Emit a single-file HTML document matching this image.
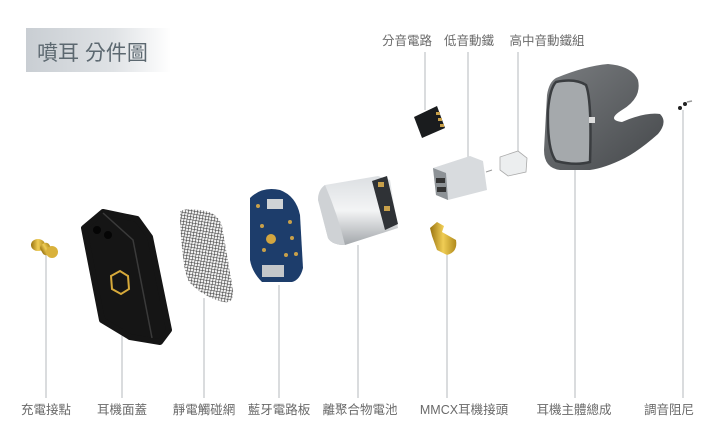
<!DOCTYPE html>
<html><head><meta charset="utf-8"><style>
html,body{margin:0;padding:0;background:#fff;width:720px;height:444px;overflow:hidden}
svg{display:block}
text{font-family:"Liberation Sans","Noto Sans CJK TC",sans-serif;fill:#6a6a6a;font-size:12.5px}
</style></head><body>
<svg width="720" height="444" viewBox="0 0 720 444" xmlns="http://www.w3.org/2000/svg">
<defs>
<linearGradient id="tg" x1="0" x2="1" y1="0" y2="0">
<stop offset="0" stop-color="#c9ced3"/><stop offset="0.6" stop-color="#dfe2e5"/><stop offset="1" stop-color="#fff"/></linearGradient>
<linearGradient id="bat" x1="0" x2="0" y1="0" y2="1">
<stop offset="0" stop-color="#dcdfe2"/><stop offset="0.5" stop-color="#f3f4f5"/><stop offset="1" stop-color="#a3a7ab"/></linearGradient>
<linearGradient id="gold" x1="0" x2="1"><stop offset="0" stop-color="#9a7410"/><stop offset="0.5" stop-color="#f0cd55"/><stop offset="1" stop-color="#b08a1c"/></linearGradient>
<linearGradient id="shell" x1="0" x2="1" y1="0" y2="1"><stop offset="0" stop-color="#7a7d80"/><stop offset="1" stop-color="#45484b"/></linearGradient>
<pattern id="mesh" width="3" height="3" patternUnits="userSpaceOnUse" patternTransform="rotate(10)">
<rect width="3" height="3" fill="#f2f2f2"/><path d="M0 0H3M0 0V3" stroke="#333" stroke-width="1.1"/></pattern>
</defs>
<rect x="26" y="28" width="145" height="44" fill="url(#tg)"/>
<text x="37" y="60" style="font-size:21px;fill:#5c6870">噴耳 分件圖</text>

<g stroke="#b5b9bc" stroke-width="1">
<line x1="46" y1="255" x2="46" y2="398"/>
<line x1="122" y1="333" x2="122" y2="398"/>
<line x1="204" y1="298" x2="204" y2="398"/>
<line x1="279" y1="285" x2="279" y2="398"/>
<line x1="358" y1="245" x2="358" y2="398"/>
<line x1="447" y1="255" x2="447" y2="398"/>
<line x1="575" y1="165" x2="575" y2="398"/>
<line x1="683" y1="110" x2="683" y2="398"/>
<line x1="425" y1="52" x2="425" y2="110"/>
<line x1="468" y1="52" x2="468" y2="160"/>
<line x1="518" y1="52" x2="518" y2="152"/>
</g>

<!-- gold contacts -->
<ellipse cx="38" cy="245" rx="7" ry="6" fill="url(#gold)"/>
<rect x="41" y="243" width="10" height="12" rx="4" fill="url(#gold)" transform="rotate(-30 46 249)"/>
<ellipse cx="52" cy="252" rx="6" ry="6" fill="#d9b13b"/>
<!-- cover -->
<polygon points="84,228 103,212 137,219 150,237 169,330 160,342 130,337 102,320" fill="#151515" stroke="#151515" stroke-width="6" stroke-linejoin="round"/>
<polyline points="103,213 133,240 152,338" fill="none" stroke="#3a3a3a" stroke-width="1.5"/>
<circle cx="97" cy="230" r="4" fill="#050505"/><circle cx="108" cy="235" r="4" fill="#050505"/>
<polygon points="111,276 120,271 128,276 129,289 121,294 112,289" fill="none" stroke="#d6a93a" stroke-width="2"/>
<!-- mesh -->
<path d="M180,212 Q182,208 200,210 Q218,212 222,226 L233,290 Q234,304 224,302 Q205,298 190,283 Q183,276 180,222 Z" fill="url(#mesh)"/>
<!-- PCB -->
<path d="M250,198 Q262,186 280,190 Q296,196 300,215 L303,268 Q300,280 292,282 L262,282 Q252,272 250,260 Z" fill="#1d3d6b"/>
<rect x="267" y="199" width="16" height="10" fill="#cfd3d6"/>
<circle cx="271" cy="239" r="5" fill="#d3a640"/>
<g fill="#c8a04a"><circle cx="258" cy="206" r="2"/><circle cx="290" cy="222" r="2"/><circle cx="292" cy="238" r="2"/><circle cx="286" cy="255" r="2"/><circle cx="262" cy="226" r="2"/><circle cx="296" cy="254" r="2"/><circle cx="264" cy="250" r="2"/></g>
<rect x="262" y="265" width="22" height="12" fill="#c4c7ca"/>
<!-- battery -->
<path d="M325,185 L378,176 L390,180 L398,228 L345,245 Q332,245 328,238 L318,200 Q318,190 325,185 Z" fill="url(#bat)"/>
<path d="M325,185 Q318,190 318,200 L328,238 Q332,245 345,245 Q338,215 325,185 Z" fill="#cfd2d5"/>
<path d="M372,181 L387,176 L398,224 L385,230 Z" fill="#2f3236"/>
<rect x="378" y="182" width="6" height="5" fill="#c8a04a"/><rect x="384" y="206" width="6" height="5" fill="#c8a04a"/>
<!-- crossover -->
<polygon points="414,117 437,106 445,128 422,138" fill="#1a1c1e"/>
<g fill="#c8a04a"><rect x="436" y="112" width="4" height="3"/><rect x="438" y="118" width="4" height="3"/><rect x="440" y="124" width="4" height="3"/></g>
<!-- woofer -->
<polygon points="433,168 470,156 483,161 487,190 448,200 436,195" fill="#d8dbde"/>
<polygon points="433,168 446,173 448,200 436,195" fill="#8d9296"/>
<rect x="436" y="178" width="9" height="5" fill="#333"/><rect x="437" y="187" width="9" height="5" fill="#333"/>
<line x1="486" y1="172" x2="492" y2="170" stroke="#999"/>
<!-- tweeter -->
<polygon points="500,157 518,151 527,158 526,172 508,176 500,170" fill="#eceeef" stroke="#aaa" stroke-width="0.8"/>
<!-- shell -->
<path d="M556,78 Q585,66 608,64 Q632,66 638,80 Q642,98 622,110 Q606,120 622,122 Q645,112 660,114 Q668,122 658,134 Q640,150 625,158 Q605,168 590,170 L560,170 Q544,168 544,150 L547,95 Q549,82 556,78 Z" fill="url(#shell)"/>
<path d="M556,82 Q575,78 586,85 Q592,100 590,162 Q575,166 556,161 Q547,150 548,110 Q550,88 556,82 Z" fill="#a5a9ac" stroke="#3a3d40" stroke-width="2.5"/>
<rect x="589" y="117" width="6" height="6" fill="#ddd"/>
<!-- damper -->
<circle cx="680" cy="108" r="2" fill="#222"/><circle cx="685" cy="104" r="2" fill="#222"/>
<line x1="687" y1="102" x2="692" y2="101" stroke="#999" stroke-width="1.5"/>
<!-- MMCX -->
<path d="M430,228 L437,222 L444,226 L442,232 L456,240 Q458,252 447,255 L437,250 L432,236 Z" fill="url(#gold)"/>

<!-- labels -->
<g text-anchor="middle">
<text x="46" y="414">充電接點</text>
<text x="122" y="414">耳機面蓋</text>
<text x="204" y="414">靜電觸碰網</text>
<text x="279" y="414">藍牙電路板</text>
<text x="360" y="414">離聚合物電池</text>
<text x="464" y="414">MMCX耳機接頭</text>
<text x="574" y="414">耳機主體總成</text>
<text x="669" y="414">調音阻尼</text>
<text x="407" y="45">分音電路</text>
<text x="469" y="45">低音動鐵</text>
<text x="547" y="45">高中音動鐵組</text>
</g>
</svg>
</body></html>
